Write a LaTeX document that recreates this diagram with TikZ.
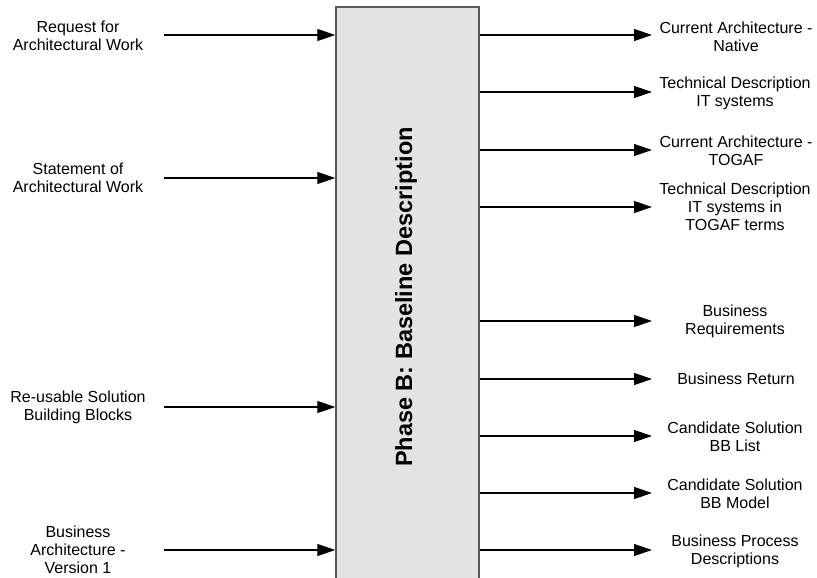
\documentclass[tikz,border=0pt]{standalone}
\usepackage{fontspec}
\setmainfont{Liberation Sans}
\usetikzlibrary{arrows.meta}
\begin{document}
\begin{tikzpicture}[x=1pt,y=-1pt,
  lbl/.style={align=center,font=\fontsize{16}{18}\selectfont,inner sep=0pt},
  flow/.style={draw=black,line width=1.2pt,-{Triangle[length=18pt,width=12pt]}},
  phasebox/.style={draw=black!65,fill=black!11,line width=1.5pt,
    minimum width=143pt,minimum height=593pt,inner sep=0pt}]
\useasboundingbox (0,0) rectangle (817,578);
\clip (0,0) rectangle (817,578);

% central phase box
\node[phasebox] (box) at (407.5,303.5) {};
\node[rotate=90,anchor=base,inner sep=0pt,
  font=\fontsize{23.5}{26}\selectfont\bfseries] (title) at (412,297)
  {Phase B: Baseline Description};

% inputs
\coordinate (i1) at (164,35);
\coordinate (i2) at (164,178);
\coordinate (i3) at (164,407);
\coordinate (i4) at (164,550);
\node[lbl] (l1) at (78,36) {Request for\\Architectural Work};
\node[lbl] (l2) at (78,178) {Statement of\\Architectural Work};
\node[lbl] (l3) at (78,407) {Re-usable Solution\\Building Blocks};
\node[lbl] (l4) at (78,550) {Business\\Architecture -\\Version 1};
\foreach \n in {i1,i2,i3,i4}
  \draw[flow] (\n) -- (\n -| box.west);

% outputs
\coordinate (o1) at (652,35);
\coordinate (o2) at (652,92);
\coordinate (o3) at (652,150);
\coordinate (o4) at (652,207);
\coordinate (o5) at (652,321);
\coordinate (o6) at (652,379);
\coordinate (o7) at (652,436);
\coordinate (o8) at (652,493);
\coordinate (o9) at (652,550);
\foreach \n in {o1,o2,o3,o4,o5,o6,o7,o8,o9}
  \draw[flow] (box.east |- \n) -- (\n);
\node[lbl] (r1) at (736,37) {Current Architecture -\\Native};
\node[lbl] (r2) at (735,93) {Technical Description\\IT systems};
\node[lbl] (r3) at (736,151) {Current Architecture -\\TOGAF};
\node[lbl] (r4) at (735,207) {Technical Description\\IT systems in\\TOGAF terms};
\node[lbl] (r5) at (735,321) {Business\\Requirements};
\node[lbl] (r6) at (736,379) {Business Return};
\node[lbl] (r7) at (735,437) {Candidate Solution\\BB List};
\node[lbl] (r8) at (735,494) {Candidate Solution\\BB Model};
\node[lbl] (r9) at (735,551) {Business Process\\Descriptions};
\end{tikzpicture}
\end{document}
